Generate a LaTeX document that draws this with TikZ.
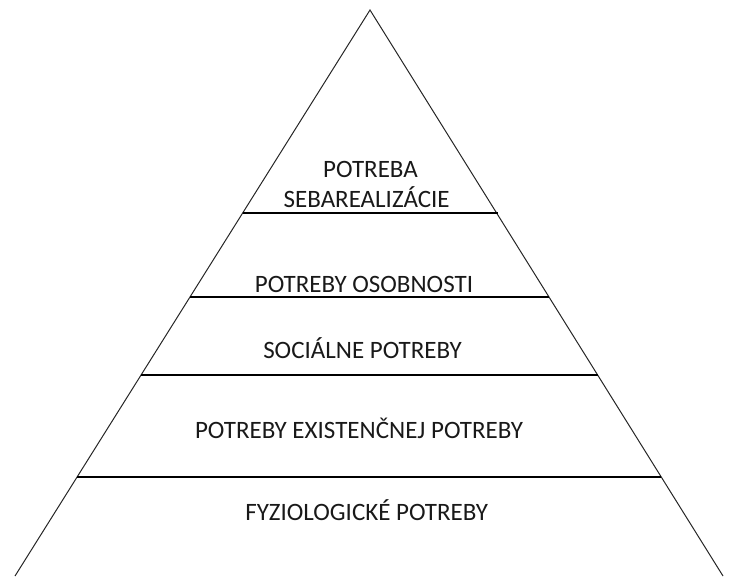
\documentclass[tikz,border=0pt]{standalone}
\usepackage{fontspec}
\setmainfont{Carlito}
\begin{document}
\begin{tikzpicture}[x=1pt,y=-1pt,
  edge/.style={draw=black!85,line width=1pt},
  level/.style={draw=black,line width=1.3pt},
  lbl/.style={font=\fontsize{25}{27}\selectfont,text=black!90,anchor=base,inner sep=0pt}]
\useasboundingbox (0,0) rectangle (736,576);
\coordinate (apex) at (370,10);
\coordinate (bl) at (15,576);
\coordinate (br) at (723,576);
\draw[edge] (bl) -- (apex) -- (br);
\coordinate (l1) at (242.7,213); \coordinate (r1) at (498,213);
\coordinate (l2) at (190,297);   \coordinate (r2) at (549,297);
\coordinate (l3) at (141,375);   \coordinate (r3) at (598,375);
\coordinate (l4) at (77,477);    \coordinate (r4) at (661,477);
\draw[level] (l1) -- (r1);
\draw[level] (l2) -- (r2);
\draw[level] (l3) -- (r3);
\draw[level] (l4) -- (r4);
\node[lbl] (t1a) at (370.5,177.7) {POTREBA};
\node[lbl] (t1b) at (366.7,207.3) {SEBAREALIZÁCIE};
\node[lbl] (t2) at (364,292.3) {POTREBY OSOBNOSTI};
\node[lbl] (t3) at (362.5,358.3) {SOCIÁLNE POTREBY};
\node[lbl] (t4) at (359,438) {POTREBY EXISTENČNEJ POTREBY};
\node[lbl] (t5) at (366.7,520.7) {FYZIOLOGICKÉ POTREBY};
\end{tikzpicture}
\end{document}
